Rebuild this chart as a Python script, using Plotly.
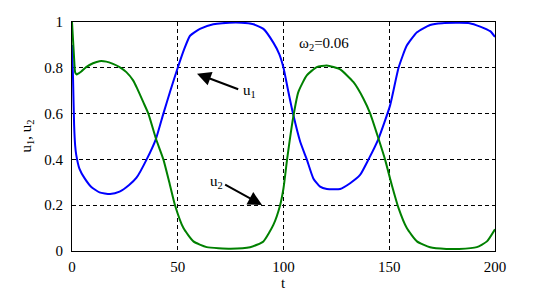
import plotly.graph_objects as go

t_u1 = [0, 0.5, 1.0, 1.5, 2.0, 3.5, 6, 9, 13, 18, 22.5, 27, 30.5, 35.3, 39.7, 43.2, 46.5, 50, 53,
        55.8, 60.5, 66.8, 71, 80, 85.8, 90.5, 95.2, 98, 100, 102.2, 104.5, 107.9, 111, 114.1,
        117.3, 120.5, 126.8, 131.5, 136.2, 140.2, 144.9, 150.4, 154.4, 158.3, 163.1, 169.3,
        175, 188, 193, 197.7, 200]
u1 = [0.90, 0.75, 0.55, 0.46, 0.42, 0.36, 0.317, 0.281, 0.256, 0.249, 0.259, 0.288, 0.32, 0.40,
      0.49, 0.60, 0.70, 0.80, 0.88, 0.94, 0.97, 0.99, 0.995, 0.997, 0.99, 0.97, 0.91, 0.86, 0.80,
      0.70, 0.60, 0.477, 0.40, 0.317, 0.281, 0.271, 0.271, 0.296, 0.332, 0.40, 0.49, 0.636, 0.80,
      0.897, 0.955, 0.987, 0.995, 0.995, 0.98, 0.96, 0.935]

t_u2 = [0, 0.5, 1.0, 1.5, 2.2, 3, 4.4, 6.7, 9.9, 13, 16.2, 19.4, 22.5, 25.7, 28.9, 30.8, 33.7,
        36.1, 39.7, 43.2, 46, 48.7, 52.7, 57.4, 63.7, 75, 84.2, 90.5, 95.2, 98.4, 100, 101.7,
        104.7, 107, 111, 115.7, 120.5, 126.8, 133.1, 137.8, 141, 144.9, 148, 151.2, 154.4,
        158.3, 163.1, 169.3, 177, 183, 191.4, 196.2, 200]
u2 = [1.0, 0.92, 0.84, 0.78, 0.771, 0.775, 0.784, 0.803, 0.82, 0.829, 0.827, 0.817, 0.803, 0.781,
      0.745, 0.71, 0.65, 0.60, 0.49, 0.40, 0.30, 0.20, 0.10, 0.042, 0.017, 0.010, 0.016, 0.042,
      0.114, 0.20, 0.274, 0.40, 0.59, 0.694, 0.767, 0.803, 0.81, 0.793, 0.737, 0.665, 0.60,
      0.491, 0.40, 0.288, 0.187, 0.10, 0.042, 0.016, 0.009, 0.009, 0.017, 0.042, 0.095]

x_ticks = [0, 50, 100, 150, 200]
y_ticks = [0, 0.2, 0.4, 0.6, 0.8, 1]
y_tick_text = ["0", "0.2", "0.4", "0.6", "0.8", "1"]

FONT = "Liberation Serif, Times New Roman, DejaVu Serif, serif"
TXT = dict(family=FONT, size=15, color="black")

fig = go.Figure()
fig.add_trace(go.Scatter(x=t_u1, y=u1, mode="lines", name="u1",
                         line=dict(color="#0000FF", width=2, shape="spline", smoothing=0.5)))
fig.add_trace(go.Scatter(x=t_u2, y=u2, mode="lines", name="u2",
                         line=dict(color="#008000", width=2, shape="spline", smoothing=0.5)))

axis_common = dict(showline=True, linecolor="black", linewidth=1, mirror=True,
                   showgrid=True, gridcolor="black", gridwidth=1, griddash="4px,3px",
                   zeroline=False, ticks="", tickfont=TXT, automargin=False)

fig.update_xaxes(range=[0, 200], tickvals=x_ticks, ticktext=[str(v) for v in x_ticks],
                 ticklabelstandoff=2, **axis_common)
fig.update_yaxes(range=[0, 1], tickvals=y_ticks, ticktext=y_tick_text,
                 ticklabelstandoff=5, **axis_common)

# axis titles as annotations (precise placement)
fig.add_annotation(x=100, xref="x", y=0, yref="paper", yanchor="middle", yshift=-32,
                   text="t", showarrow=False, font=TXT)
fig.add_annotation(x=0, xref="paper", xanchor="center", xshift=-46, y=0.5, yref="paper",
                   text="u<sub>1</sub>, u<sub>2</sub>", textangle=-90, showarrow=False, font=TXT)

# arrows
fig.add_annotation(x=59.1, y=0.774, ax=79.3, ay=0.704, axref="x", ayref="y", text="",
                   showarrow=True, arrowhead=2, arrowsize=1.4, arrowwidth=2, arrowcolor="black")
fig.add_annotation(x=89.9, y=0.201, ax=71.7, ay=0.293, axref="x", ayref="y", text="",
                   showarrow=True, arrowhead=2, arrowsize=1.4, arrowwidth=2, arrowcolor="black")
# labels
fig.add_annotation(x=80.0, y=0.70, text="u<sub>1</sub>", showarrow=False, xanchor="left",
                   font=TXT)
fig.add_annotation(x=64.2, y=0.30, text="u<sub>2</sub>", showarrow=False, xanchor="left",
                   font=TXT)
fig.add_annotation(x=106.5, y=0.905, text="ω<sub>2</sub>=0.06", showarrow=False, xanchor="left",
                   font=TXT)

fig.update_layout(width=549, height=293, margin=dict(l=72, r=54, t=22, b=42),
                  font=dict(family=FONT, color="black"),
                  paper_bgcolor="white", plot_bgcolor="white", showlegend=False)

fig.write_html("out.html", config={"displayModeBar": False},
               post_script="document.body.style.margin='0';document.body.style.overflow='hidden';")
